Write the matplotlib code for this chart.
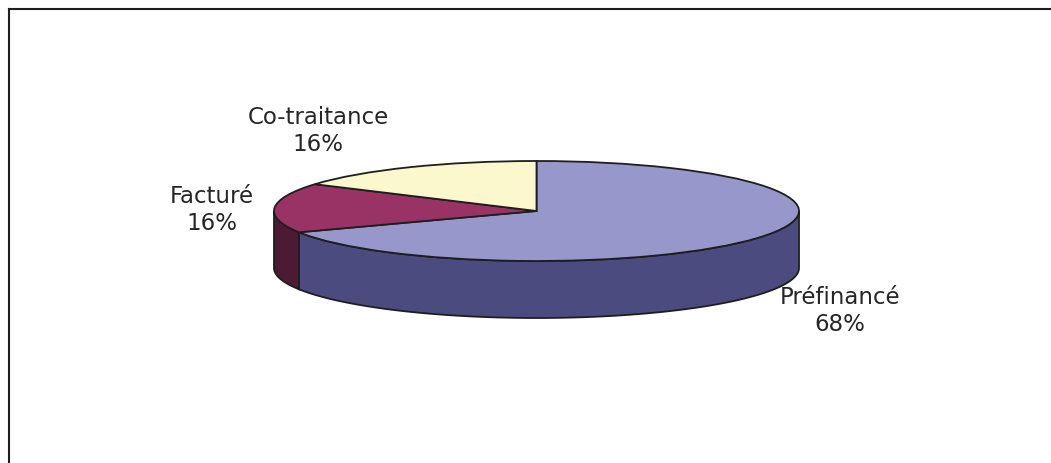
import numpy as np
import matplotlib
matplotlib.use('Agg')
import matplotlib.pyplot as plt
from matplotlib.patches import Polygon
from matplotlib.lines import Line2D

# data
labels = ['Préfinancé', 'Facturé', 'Co-traitance']
values = [68, 16, 16]
top_colors = ['#9797CB', '#993366', '#FBF8CD']
side_colors = ['#4B4B80', '#4D1A33', '#C8C49A']

W, H = 1051, 464
cx, cy = 536.5, 212.0      # pie centre (pixels)
rx, ry = 262.5, 50.0       # ellipse half-axes (pixels)
depth = 57.0 / ry          # thickness in y units

fig = plt.figure(figsize=(W / 100, H / 100), dpi=100)
ax = fig.add_axes([0, 0, 1, 1])

# top faces via the pie, squashed into an ellipse by the axes limits
wedges, _ = ax.pie(values, colors=top_colors, startangle=90, counterclock=False,
                   wedgeprops=dict(edgecolor='#1e1e1e', linewidth=1.3), frame=False)
for w in wedges:
    w.set_zorder(3)

# side walls: only the front half (sin < 0) is visible
for w, col in zip(wedges, side_colors):
    t1, t2 = w.theta1, w.theta2
    for lo, hi in [(-180, 0), (180, 360)]:
        a, b = max(t1, lo), min(t2, hi)
        if b <= a:
            continue
        t = np.radians(np.linspace(a, b, 200))
        top = np.column_stack([np.cos(t), np.sin(t)])
        bot = np.column_stack([np.cos(t), np.sin(t) - depth])[::-1]
        ax.add_patch(Polygon(np.vstack([top, bot]), closed=True, facecolor=col,
                             edgecolor='#1e1e1e', linewidth=1.3, zorder=2))

ax.set_aspect('auto')
ax.set_xlim(-cx / rx, (W - cx) / rx)
ax.set_ylim(-(H - cy) / ry, cy / ry)
ax.axis('off')

# labels anchored at each slice's mid angle on the rim
offsets = [(82, -72), (-63, -1), (-92, 37)]
for w, lab, v, off in zip(wedges, labels, values, offsets):
    mid = np.radians((w.theta1 + w.theta2) / 2)
    ax.annotate(f'{lab}\n{v}%', xy=(np.cos(mid), np.sin(mid)), xytext=off,
                textcoords='offset pixels', ha='center', va='center',
                fontsize=16.5, family='DejaVu Sans', color='#262626',
                linespacing=1.2, zorder=5)

# chart-area frame (top and left edges visible)
fx, fy = 8.5 / W, 1 - 10 / H
fig.add_artist(Line2D([fx, 1], [fy, fy], transform=fig.transFigure,
                      color='#1e1e1e', linewidth=1.5))
fig.add_artist(Line2D([fx, fx], [0, fy], transform=fig.transFigure,
                      color='#1e1e1e', linewidth=1.5))

fig.savefig('out.png', dpi=100)
